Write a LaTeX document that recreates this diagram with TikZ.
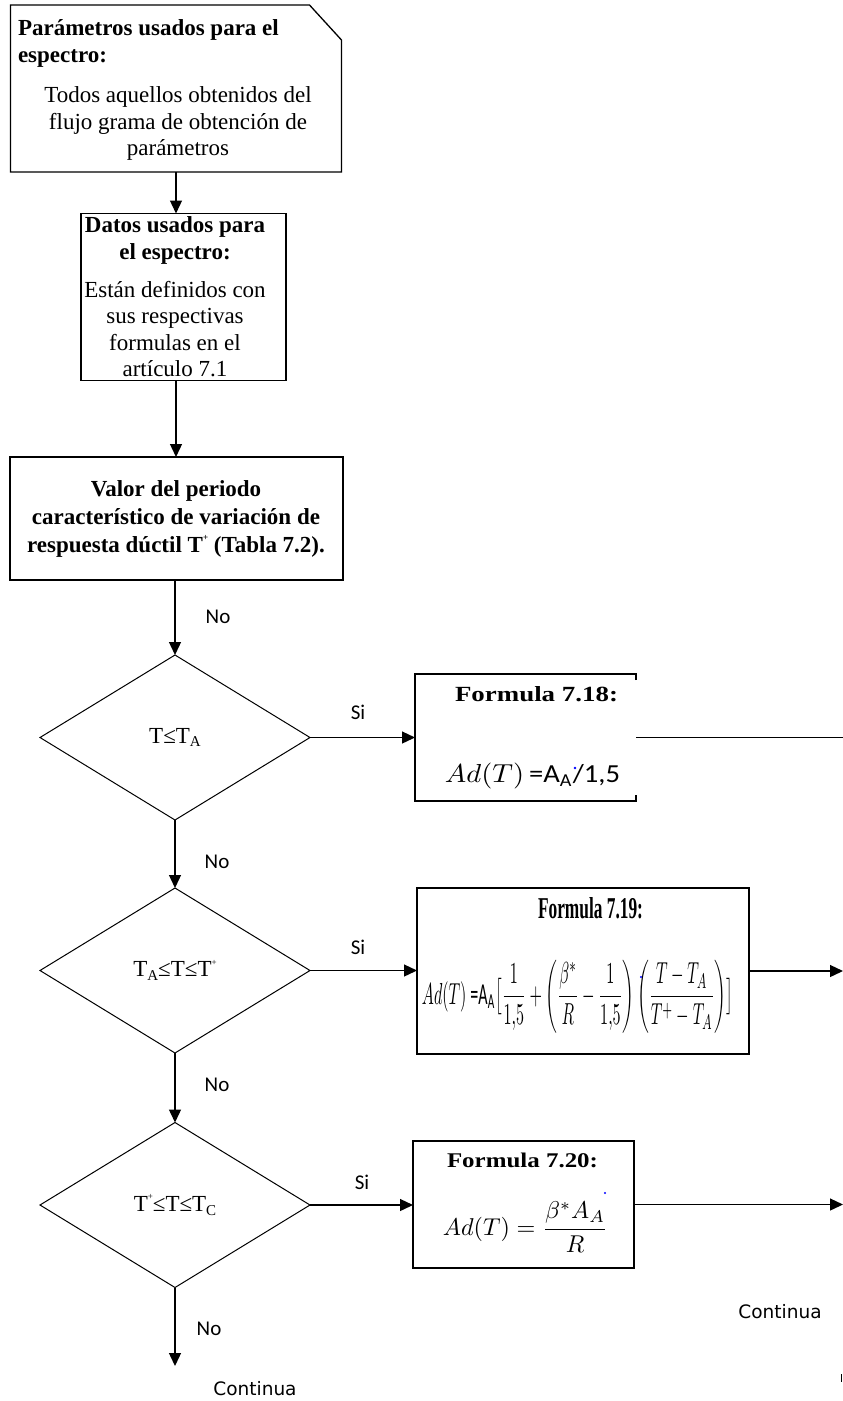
\documentclass[tikz,border=0pt]{standalone}
\usepackage{fontspec}
\setmainfont{Liberation Serif}
\newfontfamily\lblfont{Carlito}
\newfontfamily\dvfont{DejaVu Sans}
\usepackage{graphicx}
\usetikzlibrary{shapes.geometric,arrows.meta,calc}
\newcommand\mysub[1]{\raisebox{-0.16em}{\fontsize{15}{15}\selectfont #1}}
\newcommand\tplus{\raisebox{0.5em}{\fontsize{9}{9}\selectfont +}}
\tikzset{
 boxline/.style={draw, line width=1.3pt, inner sep=0pt, outer sep=0pt},
 plain/.style={inner sep=0pt, outer sep=0pt},
 body/.style={plain, font=\fontsize{23}{26.5}\selectfont, align=center},
 head/.style={plain, font=\fontsize{23}{27}\selectfont\bfseries, align=center},
 lbl/.style={plain, font=\lblfont\fontsize{21}{21}\selectfont},
 cont/.style={plain, font=\dvfont\fontsize{18.5}{18.5}\selectfont},
 dia/.style={diamond, draw, line width=1pt, minimum width=270pt, minimum height=165pt, inner sep=0pt, outer sep=0pt, font=\fontsize{23}{23}\selectfont},
 arr/.style={line width=1.3pt, -{Triangle[length=13pt,width=12pt]}},
 ln/.style={line width=1.3pt},
 bdot/.style={fill=blue},
}
\begin{document}
\begin{tikzpicture}[x=1pt,y=-1pt]
\fill[white] (0,0) rectangle (843,1401);
\useasboundingbox (0,0) rectangle (843,1401);

% Box 1 (cut corner)
\node[plain, minimum width=331pt, minimum height=167pt] (p1) at (176,88.5) {};
\draw[line width=1.3pt] (p1.south west) -- (p1.north west) -- ($(p1.north east)+(-32,0)$) -- ($(p1.north east)+(0,35)$) -- (p1.south east) -- cycle;
\node[head, anchor=west, align=left] (p1h) at (18,43.5) {Parámetros usados para el\\espectro:};
\node[body] (p1b) at (178,123.5) {Todos aquellos obtenidos del\\flujo grama de obtención de\\parámetros};

% Box 2
\node[boxline, minimum width=205pt, minimum height=167pt] (b2) at (183.5,297) {};
\node[head] (b2h) at (175,240) {Datos usados para\\el espectro:};
\node[body] (b2b) at (175,329) {Están definidos con\\sus respectivas\\formulas en el\\artículo 7.1};

% Box 3
\node[boxline, minimum width=333pt, minimum height=123pt] (b3) at (176.5,518.5) {};
\node[head, font=\fontsize{23}{28}\selectfont\bfseries] (b3t) at (176,518.5) {Valor del periodo\\característico de variación de\\respuesta dúctil T\tplus{} (Tabla 7.2).};

% Diamonds
\node[dia] (d1) at (175,737.5) {T≤T\mysub{A}};
\node[dia] (d2) at (175,970.5) {T\mysub{A}≤T≤T\tplus};
\node[dia] (d3) at (175,1205) {T\tplus≤T≤T\mysub{C}};

% Formula boxes
\node[plain, minimum width=221pt, minimum height=127pt] (f1) at (525.5,737.5) {};
\draw[line width=1.3pt] ($(f1.north east)+(0,6)$) -- (f1.north east) -- (f1.north west) -- (f1.south west) -- (f1.south east) -- ($(f1.south east)+(0,-6)$);
\node[boxline, minimum width=332pt, minimum height=166pt] (f2) at (583,971) {};
\node[boxline, minimum width=221pt, minimum height=127pt] (f3) at (523.5,1204.5) {};

\node[plain, anchor=south west] (f1t) at (455,701.7) {\resizebox{163pt}{15pt}{\bfseries Formula 7.18:}};
\node[plain, anchor=south west] (f2t) at (538,919.3) {\resizebox{105pt}{21pt}{\bfseries Formula 7.19:}};
\node[plain, anchor=south west] (f3t) at (447,1168) {\resizebox{151pt}{14.5pt}{\bfseries Formula 7.20:}};

\node[plain] (f1f) at (532.5,776) {\resizebox*{175pt}{26pt}{$Ad(T)$\,{\lblfont =A\textsubscript{A}/1,5}}};
\node[plain] (f2f) at (577.5,996.5) {\resizebox*{311pt}{73pt}{$\displaystyle Ad(T)\ \mbox{\lblfont =A\textsubscript{A}}\bigl[\frac{1}{1{,}5}+\left(\frac{\beta^*}{R}-\frac{1}{1{,}5}\right)\left(\frac{T-T_A}{T^+-T_A}\right)\bigr]$}};
\node[plain] (f3f) at (525.5,1227) {\resizebox*{165pt}{50pt}{$\displaystyle Ad(T) = \frac{\beta^* A_A}{R}$}};

\fill[bdot] (575,768) circle (1.3pt);
\fill[bdot] (641,977) circle (1.2pt);
\fill[bdot] (605,1193) circle (1.2pt);

% free ends
\coordinate (e1) at (843,737.5);
\coordinate (e2) at (843,971);
\coordinate (e3) at (843,1204.5);
\coordinate (endno) at (175,1366);

% connectors
\draw[arr] (p1.south) -- (p1.south |- b2.north);
\draw[arr] (p1.south |- b2.south) -- (p1.south |- b3.north);
\draw[arr] (d1.north |- b3.south) -- (d1.north);
\draw[arr] (d1.south) -- (d2.north);
\draw[arr] (d2.south) -- (d3.north);
\draw[arr] (d3.south) -- (endno);
\draw[arr] (d1.east) -- (d1.east -| f1.west);
\draw[ln] (f1.east) -- (e1);
\draw[arr] (d2.east) -- (d2.east -| f2.west);
\draw[arr] (f2.east) -- (e2);
\draw[arr] (d3.east) -- (d3.east -| f3.west);
\draw[arr] (f3.east) -- (e3);

% labels
\node[lbl] (no1) at (218,617) {No};
\node[lbl] (si1) at (358,712) {Si};
\node[lbl] (no2) at (217,862) {No};
\node[lbl] (si2) at (358,947) {Si};
\node[lbl] (no3) at (217,1085) {No};
\node[lbl] (si3) at (362,1182) {Si};
\node[lbl] (no4) at (209,1329) {No};
\node[cont] (c1) at (780,1312) {Continua};
\node[cont] (c2) at (255,1389) {Continua};

\draw[line width=0.6pt] (841,1374) -- (841,1382);
\end{tikzpicture}
\end{document}
